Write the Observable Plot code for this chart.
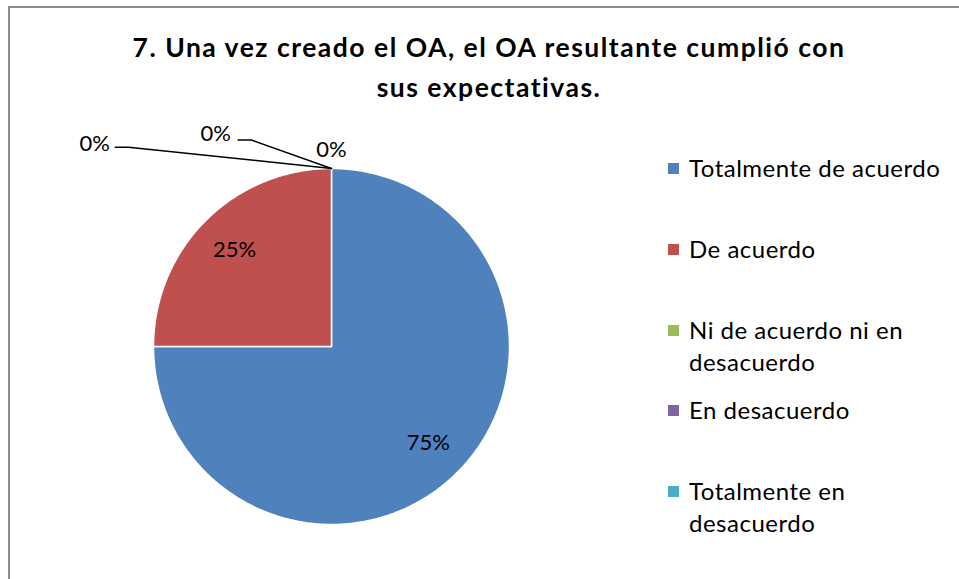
<!DOCTYPE html>
<html>
<head>
<meta charset="utf-8">
<script src="https://cdn.jsdelivr.net/npm/d3@7"></script>
<script src="https://cdn.jsdelivr.net/npm/@observablehq/plot@0.6"></script>
<style>
  html, body { margin: 0; padding: 0; background: #fff; }
  #wrap { position: relative; width: 959px; height: 579px; overflow: hidden; font-family: Lato, "Open Sans", sans-serif; color: #000; }
  #frame { position: absolute; left: 8px; top: 6px; width: 1000px; height: 1000px; border: 2px solid #8c8c8c; box-sizing: border-box; }
  #title { position: absolute; left: 39px; width: 900px; top: 27px; text-align: center; font-weight: bold; font-size: 26.5px; letter-spacing: 1.5px; line-height: 40px; }
  #chart { position: absolute; left: 0; top: 0; }
  .leg { position: absolute; left: 668px; font-size: 24px; letter-spacing: 0.5px; line-height: 32px; }
  .leg .sw { position: absolute; left: 0; top: 11px; width: 11px; height: 11px; }
  .leg .tx { position: absolute; left: 21px; top: 0; white-space: nowrap; }
</style>
</head>
<body>
<div id="wrap">
  <div id="frame"></div>
  <div id="chart"></div>
  <div id="title">7. Una vez creado el OA, el OA resultante cumplió con<br>sus expectativas.</div>
  <div id="legend"></div>
</div>
<script>
// ---- data ----
const categories = ["Totalmente de acuerdo", "De acuerdo", "Ni de acuerdo ni en desacuerdo", "En desacuerdo", "Totalmente en desacuerdo"];
const values = [75, 25, 0, 0, 0];
const percentLabels = ["75%", "25%", "0%", "0%", "0%"];
const colors = ["#4F81BD", "#C0504D", "#9BBB59", "#8064A2", "#4BACC6"];
const legendLines = [["Totalmente de acuerdo"], ["De acuerdo"], ["Ni de acuerdo ni en", "desacuerdo"], ["En desacuerdo"], ["Totalmente en", "desacuerdo"]];

// ---- pie geometry (data space, unit circle, y up, clockwise from 12 o'clock) ----
const rows = categories.map((c, i) => ({cat: c, value: values[i], label: percentLabels[i], i}));
const arcs = d3.pie().sort(null).value(d => d.value).startAngle(0).endAngle(2 * Math.PI)(rows);
const poly = [];
for (const a of arcs) {
  if (a.endAngle - a.startAngle <= 0) continue;
  poly.push({cat: a.data.cat, x: 0, y: 0});
  const n = Math.max(2, Math.ceil((a.endAngle - a.startAngle) / 0.01));
  for (let k = 0; k <= n; k++) {
    const t = a.startAngle + (a.endAngle - a.startAngle) * k / n;
    poly.push({cat: a.data.cat, x: Math.sin(t), y: Math.cos(t)});
  }
}
// labels for nonzero slices at the slice centroid
const labelR = 0.77;
const inLabels = arcs.filter(a => a.data.value > 0).map(a => {
  const m = (a.startAngle + a.endAngle) / 2;
  return {text: a.data.label, x: labelR * Math.sin(m), y: labelR * Math.cos(m)};
});
// zero slices: labels placed outside with leader lines to the slice tip (layout)
const zeroArcs = arcs.filter(a => a.data.value === 0);
const zeroPlace = [
  {lx: -1.33, ly: 1.14, leader: [[-1.215, 1.12], [-1.14, 1.12]]},
  {lx: -0.65, ly: 1.195, leader: [[-0.525, 1.16], [-0.45, 1.16]]},
  {lx: 0.0, ly: 1.105, leader: null}
];
const zeroLabels = zeroArcs.map((a, k) => ({text: a.data.label, x: zeroPlace[k].lx, y: zeroPlace[k].ly}));
const leaders = [];
zeroArcs.forEach((a, k) => {
  const p = zeroPlace[k];
  if (!p.leader) return;
  const tip = [Math.sin(a.startAngle), Math.cos(a.startAngle)];
  [...p.leader, tip].forEach(([x, y]) => leaders.push({k, x, y}));
});

const chart = Plot.plot({
  width: 959,
  height: 579,
  margin: 0,
  style: {fontFamily: "Lato, 'Open Sans', sans-serif", background: "transparent"},
  x: {domain: [-1, 1], range: [153, 509], axis: null},
  y: {domain: [-1, 1], range: [524, 168], axis: null},
  color: {domain: categories, range: colors},
  marks: [
    Plot.line(poly, {x: "x", y: "y", z: "cat", fill: "cat", stroke: "white", strokeWidth: 1.5, curve: "linear-closed"}),
    Plot.line(leaders, {x: "x", y: "y", z: "k", stroke: "black", strokeWidth: 1.5}),
    Plot.text(inLabels, {x: "x", y: "y", text: "text", fontSize: 22, fill: "black"}),
    Plot.text(zeroLabels, {x: "x", y: "y", text: "text", fontSize: 22, fill: "black"})
  ]
});
document.getElementById("chart").appendChild(chart);

// ---- legend ----
const legend = document.getElementById("legend");
categories.forEach((c, i) => {
  const item = document.createElement("div");
  item.className = "leg";
  item.style.top = (152 + i * 80.75) + "px";
  const sw = document.createElement("div");
  sw.className = "sw";
  sw.style.background = colors[i];
  const tx = document.createElement("div");
  tx.className = "tx";
  tx.innerHTML = legendLines[i].join("<br>");
  item.appendChild(sw);
  item.appendChild(tx);
  legend.appendChild(item);
});
</script>
</body>
</html>
